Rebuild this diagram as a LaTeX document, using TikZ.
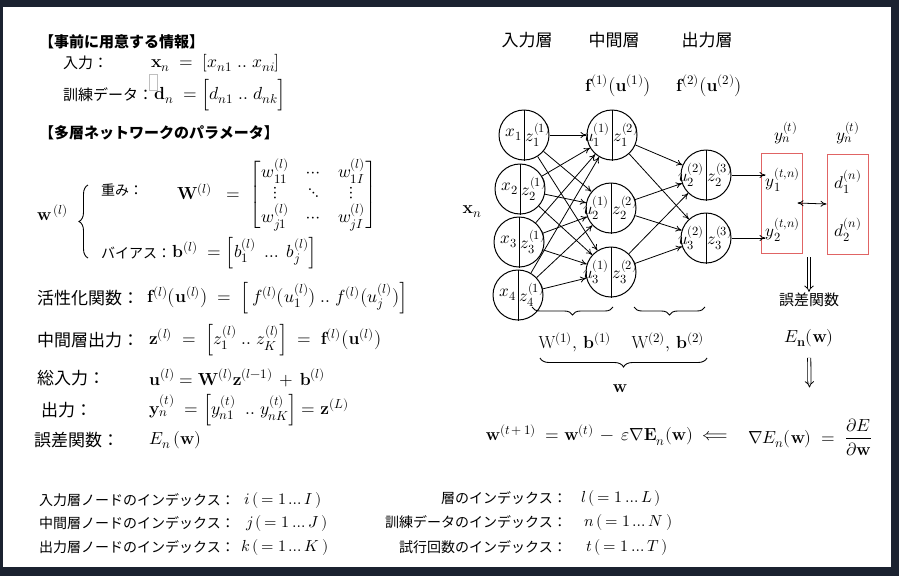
\documentclass[tikz,border=0pt]{standalone}
\usepackage{amsmath}
\usepackage{fontspec}
\usepackage{unicode-math}
\newfontfamily\jp{Noto Sans CJK JP}
\usetikzlibrary{decorations.pathreplacing,arrows.meta}
\DeclareMathSizes{17.5}{17.5}{13}{10}
\DeclareMathSizes{17}{17}{12.5}{9.5}
\DeclareMathSizes{16}{16}{12}{9}
\definecolor{frame}{HTML}{1B2230}
\definecolor{boxred}{HTML}{E06464}
\tikzset{
  jptxt/.style={font={\fontsize{15}{18}\selectfont\jp}, inner sep=1pt},
  jpsm/.style={font={\fontsize{14}{17}\selectfont\jp}, inner sep=1pt},
  jpbig/.style={font={\fontsize{17}{20}\selectfont\jp}, inner sep=1pt},
  jphead/.style={font={\fontsize{15}{18}\selectfont\jp\bfseries}, inner sep=1pt},
  idx/.style={font={\fontsize{14}{16}\selectfont\jp}, inner sep=1pt},
  idxm/.style={font={\fontsize{16}{18}\selectfont}, inner sep=1pt},
  eqn/.style={font={\fontsize{17.5}{20}\selectfont}, inner sep=1pt},
  lab/.style={font={\fontsize{17}{19}\selectfont}, inner sep=0pt},
  labl/.style={lab, anchor=east, xshift=-1.5pt},
  labr/.style={lab, anchor=west, xshift=1.5pt},
  neuron/.style={circle, draw, line width=1pt, minimum size=50pt, inner sep=0pt},
  outbox/.style={draw=boxred, line width=1pt, minimum width=41pt, minimum height=100pt},
  conn/.style={-{To[length=6pt,width=6pt]}, line width=0.8pt},
  imp/.style={-{Implies}, double, double distance=2.4pt, line width=0.8pt},
  brc/.style={decorate, line width=0.9pt, decoration={brace, amplitude=#1}},
  brcm/.style={decorate, line width=0.9pt, decoration={brace, mirror, amplitude=#1}}
}
\begin{document}
\begin{tikzpicture}[x=1pt,y=-1pt]
  \fill[frame](0,0) rectangle (899,576);
  \fill[white](3,7) rectangle (891,567);
  % left column
  \node[jphead,anchor=west] (pre) at (38,42) {【事前に用意する情報】};
  \node[jptxt,anchor=west] (inl) at (62,63) {入力：};
  \node[eqn,anchor=west] (ineq) at (150,63) {$\mathbf{x}_n \;=\; [x_{n1}\;..\;x_{ni}]$};
  \node[jptxt,anchor=west] (trl) at (62,95) {訓練データ：};
  \draw[black!25, line width=0.6pt](149,74) rectangle (157,90);
  \node[eqn,anchor=west] (treq) at (153,95) {$\mathbf{d}_n \;=\Bigl[d_{n1}\;..\;d_{nk}\Bigr]$};
  \node[jphead,anchor=west] (par) at (38,133) {【多層ネットワークのパラメータ】};
  \node[eqn,anchor=west] (wl) at (36,213) {$\mathbf{w}^{\,(l)}$};
  \draw[brc=9pt](88,258)--(88,185);
  \node[jpsm,anchor=west] (wtl) at (100,190) {重み：};
  \node[eqn,anchor=west] (wteq) at (176,195) {$\mathbf{W}^{(l)} \;\;=\; \setlength\arraycolsep{9pt}\begin{bmatrix} w_{11}^{(l)} & \cdots & w_{1I}^{(l)} \\ \vdots & \ddots & \vdots \\ w_{j1}^{(l)} & \cdots & w_{jI}^{(l)} \end{bmatrix}$};
  \node[jpsm,anchor=west] (bil) at (100,253) {バイアス：};
  \node[eqn,anchor=west] (bieq) at (171,253) {$\mathbf{b}^{(l)} \;=\Bigl[b_1^{(l)}\;\ldots\;b_j^{(l)}\Bigr]$};
  \node[jpbig,anchor=west] (actl) at (36,298) {活性化関数：};
  \node[eqn,anchor=west] (acteq) at (146,298) {$\mathbf{f}^{(l)}\bigl(\mathbf{u}^{(l)}\bigr) \;=\; \Bigl[\,f^{(l)}\bigl(u_1^{(l)}\bigr)\;..\;f^{(l)}\bigl(u_j^{(l)}\bigr)\Bigr]$};
  \node[jpbig,anchor=west] (midl) at (36,340) {中間層出力：};
  \node[eqn,anchor=west] (mideq) at (148,340) {$\mathbf{z}^{(l)} \;=\; \Bigl[z_1^{(l)}\;..\;z_K^{(l)}\Bigr] \;=\; \mathbf{f}^{(l)}\bigl(\mathbf{u}^{(l)}\bigr)$};
  \node[jpbig,anchor=west] (totl) at (36,378) {総入力：};
  \node[eqn,anchor=west] (toteq) at (148,378) {$\mathbf{u}^{(l)} = \mathbf{W}^{(l)}\mathbf{z}^{(l-1)} \,+\, \mathbf{b}^{(l)}$};
  \node[jpbig,anchor=west] (outl) at (40,410) {出力：};
  \node[eqn,anchor=west] (outeq) at (148,410) {$\mathbf{y}_n^{(t)} \;=\Bigl[y_{n1}^{(t)}\;\;..\;y_{nK}^{(t)}\Bigr] = \mathbf{z}^{(L)}$};
  \node[jpbig,anchor=west] (errl) at (33,440) {誤差関数：};
  \node[eqn,anchor=west] (erreq) at (148,440) {$E_n\,(\mathbf{w})$};
  % indices
  \node[idx,anchor=east] (ix1) at (236,500) {入力層ノードのインデックス：};
  \node[idxm,anchor=west] (iv1) at (243,500) {$i\,(\,=1\ldots I\,)$};
  \node[idx,anchor=east] (ix2) at (236,523) {中間層ノードのインデックス：};
  \node[idxm,anchor=west] (iv2) at (245,523) {$j\,(\,=1\ldots J\,)$};
  \node[idx,anchor=east] (ix3) at (236,547) {出力層ノードのインデックス：};
  \node[idxm,anchor=west] (iv3) at (240,547) {$k\,(\,=1\ldots K\,)$};
  \node[idx,anchor=east] (ix4) at (568,498) {層のインデックス：};
  \node[idxm,anchor=west] (iv4) at (580,498) {$l\,(\,=1\ldots L\,)$};
  \node[idx,anchor=east] (ix5) at (568,522) {訓練データのインデックス：};
  \node[idxm,anchor=west] (iv5) at (583,522) {$n\,(\,=1\ldots N\,)$};
  \node[idx,anchor=east] (ix6) at (568,547) {試行回数のインデックス：};
  \node[idxm,anchor=west] (iv6) at (585,547) {$t\,(\,=1\ldots T\,)$};
  % network
  \node[jpbig] (lin) at (527,40) {入力層};
  \node[jpbig] (lmid) at (614,40) {中間層};
  \node[jpbig] (lout) at (707,40) {出力層};
  \node[eqn] (f1) at (618,86) {$\mathbf{f}^{(1)}\bigl(\mathbf{u}^{(1)}\bigr)$};
  \node[eqn] (f2) at (709,86) {$\mathbf{f}^{(2)}\bigl(\mathbf{u}^{(2)}\bigr)$};
  \node[eqn] (xn) at (472,212) {$\mathbf{x}_n$};
  \foreach \i/\xx/\yy in {1/524/135, 2/520/189, 3/519/242, 4/518/295}{
    \node[neuron] (x\i) at (\xx,\yy) {};
    \draw[line width=1pt](x\i.north)--(x\i.south);
    \node[labl] (xl\i) at (x\i.center) {$x_\i$};
    \node[labr] (xr\i) at (x\i.center) {$z_\i^{(1)}$};
  }
  \foreach \j/\xx/\yy in {1/612/135, 2/611/208, 3/611/272}{
    \node[neuron] (h\j) at (\xx,\yy) {};
    \draw[line width=1pt](h\j.north)--(h\j.south);
    \node[labl] (hl\j) at (h\j.center) {$u_\j^{(1)}$};
    \node[labr] (hr\j) at (h\j.center) {$z_\j^{(2)}$};
  }
  \foreach \k/\xx/\yy in {2/706/175, 3/706/238}{
    \node[neuron] (o\k) at (\xx,\yy) {};
    \draw[line width=1pt](o\k.north)--(o\k.south);
    \node[labl] (ol\k) at (o\k.center) {$u_\k^{(2)}$};
    \node[labr] (or\k) at (o\k.center) {$z_\k^{(3)}$};
  }
  \foreach \i in {1,...,4}
    \foreach \j in {1,2,3}
      \draw[conn](x\i)--(h\j);
  \foreach \j in {1,2,3}
    \foreach \k in {2,3}
      \draw[conn](h\j)--(o\k);
  % output and teacher
  \node[outbox] (ybox) at (781.5,203) {};
  \node[outbox] (dbox) at (847.5,204) {};
  \node[lab] (yt1) at (786,133) {$y_n^{(t)}$};
  \node[lab] (yt2) at (848,133) {$y_n^{(t)}$};
  \node[lab] (y1) at (783,180) {$y_1^{(t,n)}$};
  \node[lab] (y2) at (783,230) {$y_2^{(t,n)}$};
  \node[lab] (d1) at (848,182) {$d_1^{(n)}$};
  \node[lab] (d2) at (848,230) {$d_2^{(n)}$};
  \draw[conn](o2.east)--(o2.east -| y1.west);
  \draw[conn](o3.east)--(o3.east -| y2.west);
  \draw[{To[length=6pt,width=6pt]}-{To[length=6pt,width=6pt]}, line width=0.8pt]([xshift=-5pt]ybox.east)--(dbox.west);
  % error and update
  \coordinate (gap) at (809,257);
  \node[jptxt] (err) at (809,300) {誤差関数};
  \node[eqn] (en) at (809,338) {$E_{\mathbf{n}}(\mathbf{w})$};
  \node[eqn] (grad) at (810,437) {$\nabla E_n(\mathbf{w}) \;=\; \dfrac{\partial E}{\partial \mathbf{w}}$};
  \node[eqn] (upd) at (607,435) {$\mathbf{w}^{(t\,+\,1)} \;=\mathbf{w}^{(t)}\,-\,\varepsilon\nabla\mathbf{E}_n(\mathbf{w})\;\Longleftarrow$};
  \draw[imp](gap)--(err);
  \draw[imp, shorten <=10pt, shorten >=30pt](en)--(grad);
  % parameter braces
  \draw[brcm=8pt](532,307)--(613,307);
  \draw[brcm=8pt](634,307)--(705,307);
  \node[eqn] (wb1) at (575,342) {$\mathrm{W}^{(1)},\,\mathbf{b}^{(1)}$};
  \node[eqn] (wb2) at (668,342) {$\mathrm{W}^{(2)},\,\mathbf{b}^{(2)}$};
  \draw[brcm=9pt](540,358)--(707,358);
  \node[eqn] (wall) at (620,389) {$\mathbf{w}$};
\end{tikzpicture}
\end{document}
